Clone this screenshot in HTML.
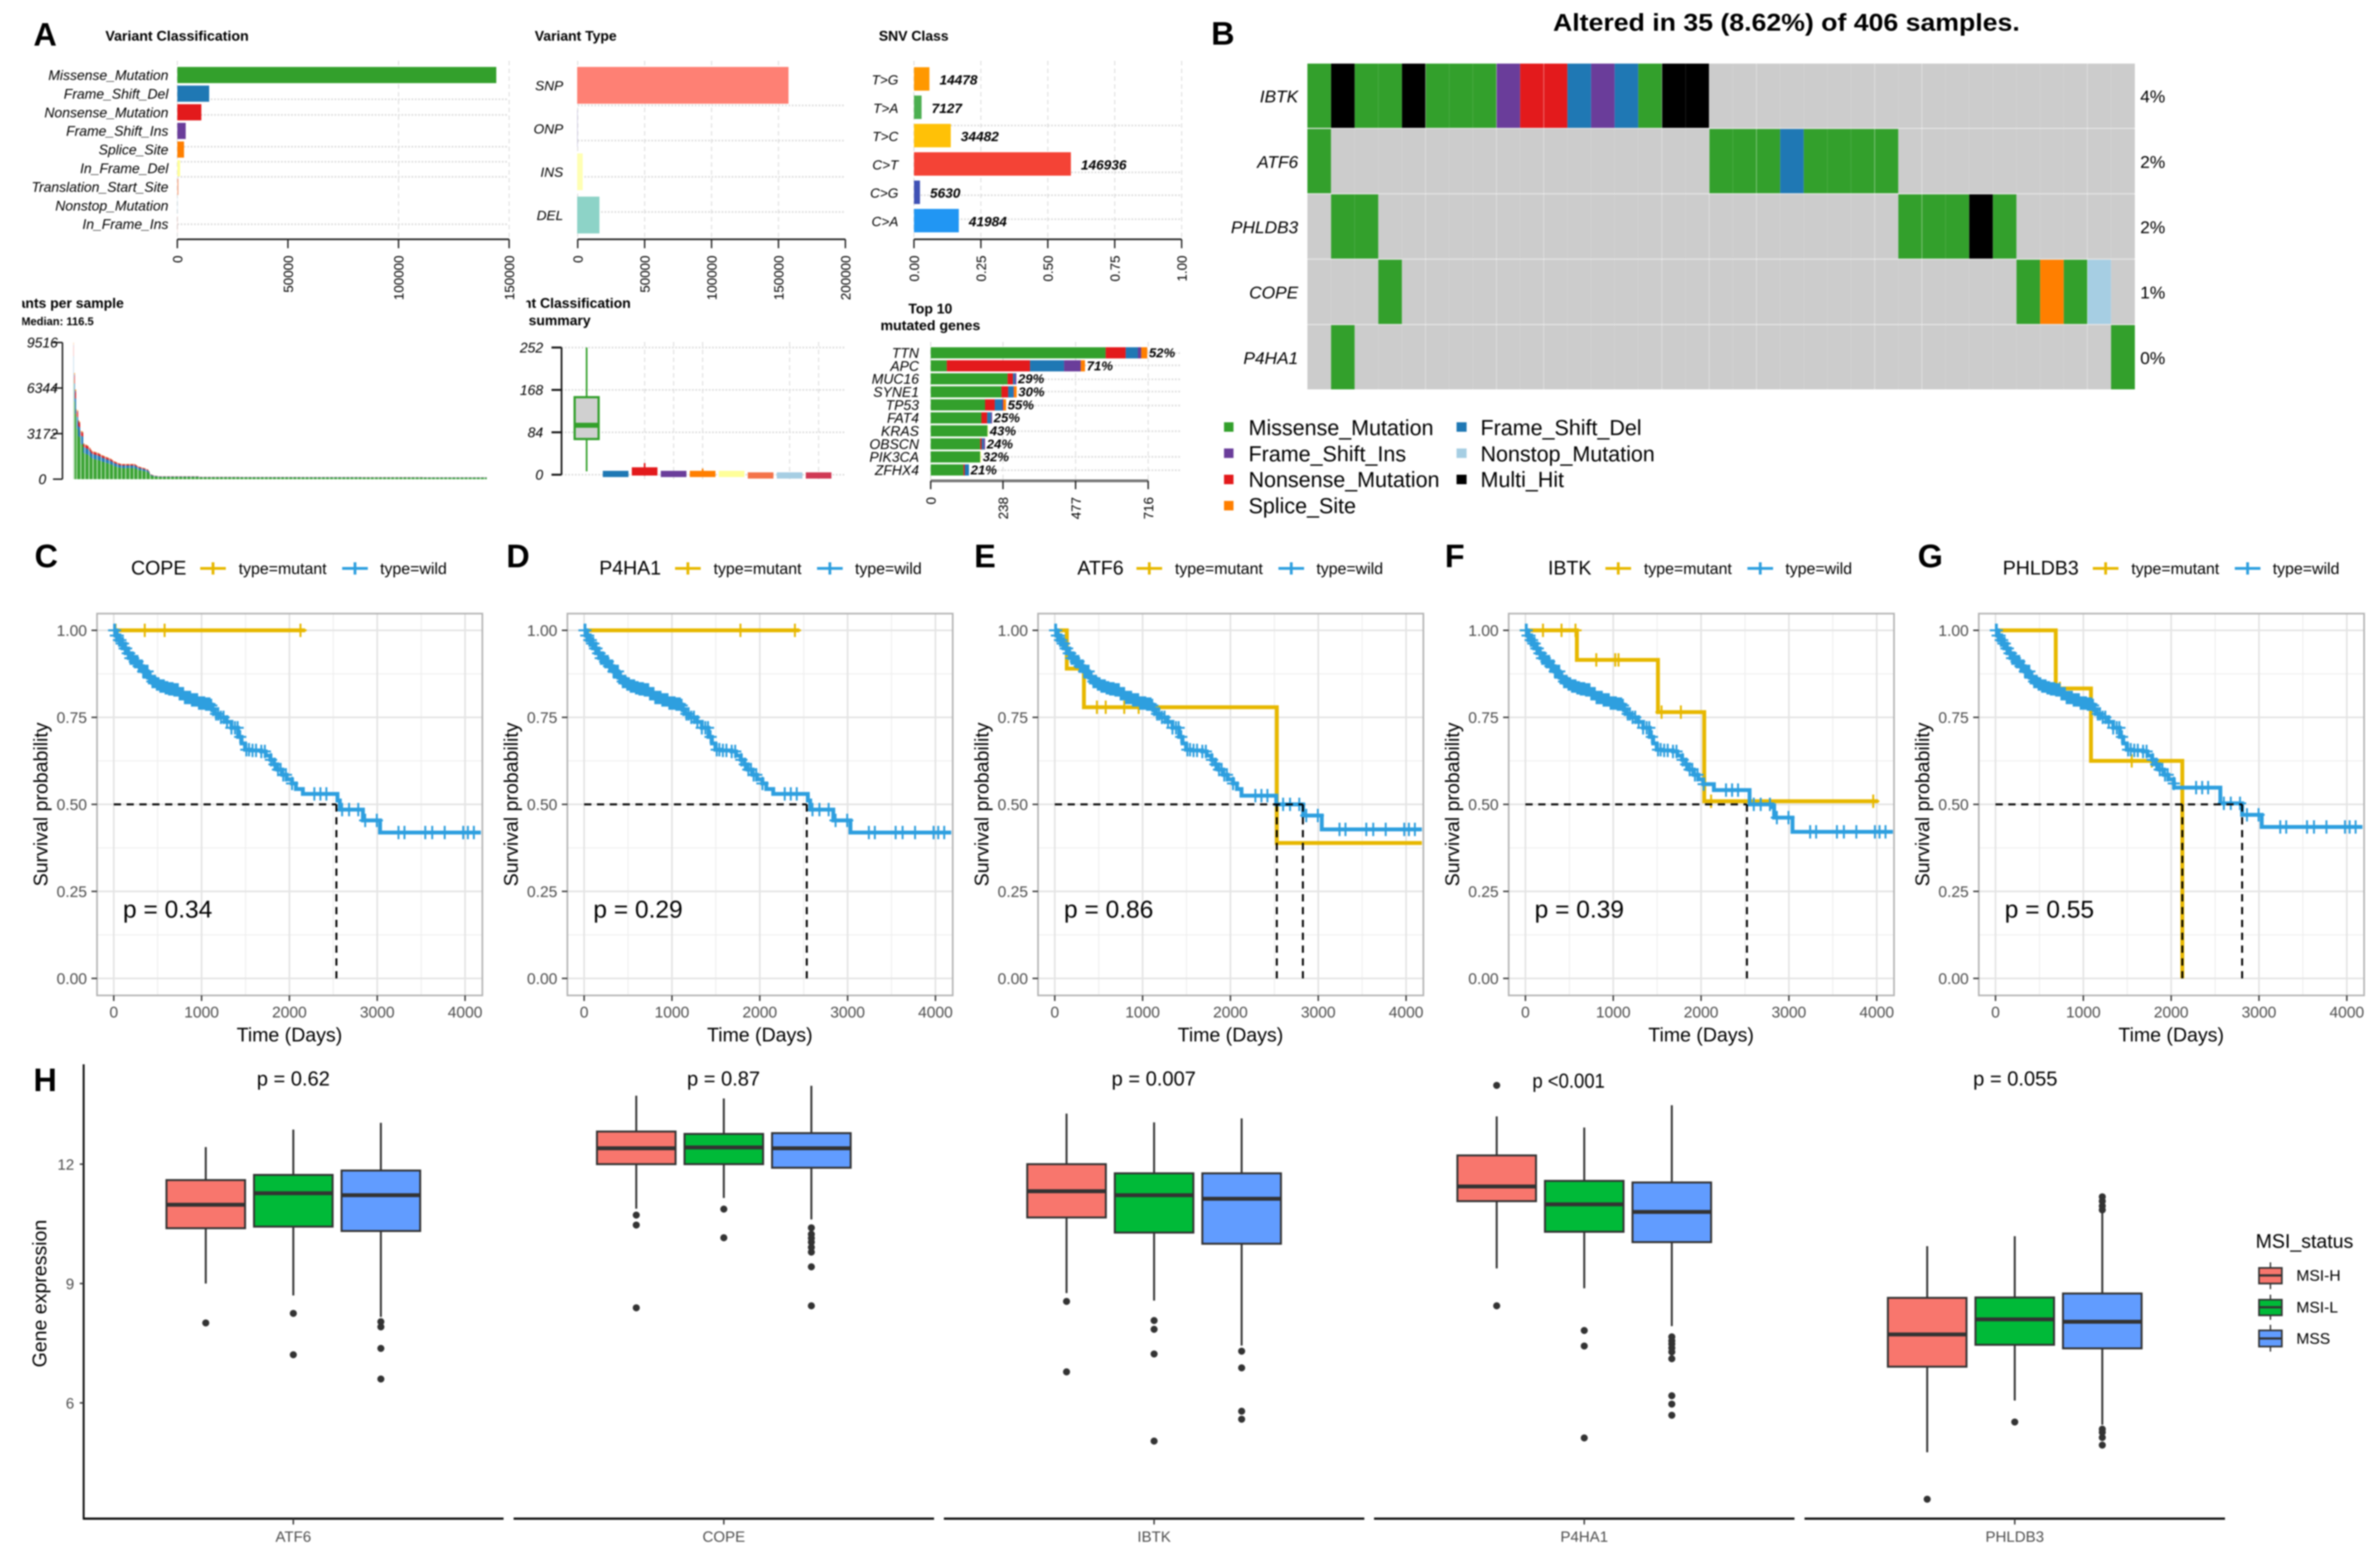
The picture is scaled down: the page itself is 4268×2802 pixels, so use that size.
<!DOCTYPE html>
<html lang="en">
<head>
<meta charset="utf-8">
<title>Mutation, survival and expression overview</title>
<style>
html,body{margin:0;padding:0;background:#fff;}
svg{display:block;filter:blur(1.4px);}
text{font-family:"Liberation Sans",Arial,sans-serif;}
.t{font-weight:700;font-size:25px;fill:#000;}
.l{font-weight:700;font-size:58px;fill:#000;}
.kg{font-size:35px;fill:#000;}
.kt{font-size:28.5px;fill:#000;}
.ax{font-size:35px;fill:#000;}
.p{font-size:44px;fill:#000;}
.hp{font-size:36px;fill:#000;}
.lg{font-size:38.5px;fill:#000;}
</style>
</head>
<body>
<svg id="fig" xmlns="http://www.w3.org/2000/svg" width="4268" height="2802" viewBox="0 0 4268 2802">
<defs>
<clipPath id="clipVm"><rect x="40" y="520" width="300" height="80"/></clipPath>
<clipPath id="clipVcs"><rect x="943.5" y="520" width="300" height="40"/></clipPath>
</defs>
<rect width="4268" height="2802" fill="#fff"/>

<!-- Panel A -->
<text class="l" x="60" y="82">A</text>
<text class="t" x="189" y="73" textLength="257" lengthAdjust="spacingAndGlyphs">Variant Classification</text>
<text class="t" x="959" y="73">Variant Type</text>
<text class="t" x="1576" y="73">SNV Class</text>
<g clip-path="url(#clipVm)">
<text class="t" x="222" y="552" text-anchor="end">Variants per sample</text>
<text x="168" y="583" text-anchor="end" font-size="20" font-weight="700">Median: 116.5</text>
</g>
<g clip-path="url(#clipVcs)">
<text class="t" x="1131" y="552" text-anchor="end">Variant Classification</text>
</g>
<text class="t" x="948" y="583">summary</text>
<text class="t" x="1629" y="562">Top 10</text>
<text class="t" x="1579" y="592" textLength="179" lengthAdjust="spacingAndGlyphs">mutated genes</text>
<g id="a1"></g>
<g id="a2"></g>
<g id="a3"></g>
<g id="a4"></g>
<g id="a5"></g>
<g id="a6"></g>

<!-- Panel B -->
<text class="l" x="2172" y="80">B</text>
<text x="2785" y="55" font-size="44" font-weight="700" textLength="837" lengthAdjust="spacingAndGlyphs">Altered in 35 (8.62%) of 406 samples.</text>
<g id="onco"></g>
<g>
<rect x="2195" y="757" width="17" height="17" fill="#33A02C"/>
<text class="lg" x="2239" y="780">Missense_Mutation</text>
<rect x="2195" y="804" width="17" height="17" fill="#6A3D9A"/>
<text class="lg" x="2239" y="827">Frame_Shift_Ins</text>
<rect x="2195" y="851" width="17" height="17" fill="#E31A1C"/>
<text class="lg" x="2239" y="873">Nonsense_Mutation</text>
<rect x="2195" y="898" width="17" height="17" fill="#FF7F00"/>
<text class="lg" x="2239" y="920">Splice_Site</text>
<rect x="2612" y="757" width="18" height="17" fill="#1F78B4"/>
<text class="lg" x="2655" y="780">Frame_Shift_Del</text>
<rect x="2612" y="804" width="18" height="17" fill="#A6CEE3"/>
<text class="lg" x="2655" y="827">Nonstop_Mutation</text>
<rect x="2612" y="851" width="18" height="17" fill="#000"/>
<text class="lg" x="2655" y="873">Multi_Hit</text>
</g>

<!-- Panels C-G -->
<text class="l" x="62" y="1017">C</text>
<text class="l" x="908" y="1017">D</text>
<text class="l" x="1747" y="1017">E</text>
<text class="l" x="2591" y="1017">F</text>
<text class="l" x="3439" y="1017">G</text>

<text class="kg" x="235" y="1030">COPE</text>
<text class="kt" x="428" y="1029">type=mutant</text>
<text class="kt" x="681.6" y="1029">type=wild</text>
<text class="kg" x="1074.6" y="1030">P4HA1</text>
<text class="kt" x="1279.6" y="1029">type=mutant</text>
<text class="kt" x="1533.2" y="1029">type=wild</text>
<text class="kg" x="1932" y="1030">ATF6</text>
<text class="kt" x="2107" y="1029">type=mutant</text>
<text class="kt" x="2360.6" y="1029">type=wild</text>
<text class="kg" x="2776" y="1030">IBTK</text>
<text class="kt" x="2948" y="1029">type=mutant</text>
<text class="kt" x="3201.6" y="1029">type=wild</text>
<text class="kg" x="3591.5" y="1030">PHLDB3</text>
<text class="kt" x="3822" y="1029">type=mutant</text>
<text class="kt" x="4075.6" y="1029">type=wild</text>

<g id="km"></g>

<text class="ax" transform="translate(85 1442) rotate(-90)" text-anchor="middle">Survival probability</text>
<text class="ax" transform="translate(928.5 1442) rotate(-90)" text-anchor="middle">Survival probability</text>
<text class="ax" transform="translate(1772.5 1442) rotate(-90)" text-anchor="middle">Survival probability</text>
<text class="ax" transform="translate(2616.5 1442) rotate(-90)" text-anchor="middle">Survival probability</text>
<text class="ax" transform="translate(3459.5 1442) rotate(-90)" text-anchor="middle">Survival probability</text>

<text class="ax" x="519" y="1867" text-anchor="middle">Time (Days)</text>
<text class="ax" x="1362.5" y="1867" text-anchor="middle">Time (Days)</text>
<text class="ax" x="2206.5" y="1867" text-anchor="middle">Time (Days)</text>
<text class="ax" x="3050.5" y="1867" text-anchor="middle">Time (Days)</text>
<text class="ax" x="3893.5" y="1867" text-anchor="middle">Time (Days)</text>

<text class="p" x="220.5" y="1645">p = 0.34</text>
<text class="p" x="1064" y="1645">p = 0.29</text>
<text class="p" x="1908" y="1645">p = 0.86</text>
<text class="p" x="2752" y="1645">p = 0.39</text>
<text class="p" x="3595" y="1645">p = 0.55</text>

<!-- Panel H -->
<text class="l" x="60" y="1956">H</text>
<text class="ax" transform="translate(83 2319) rotate(-90)" text-anchor="middle">Gene expression</text>
<text class="hp" x="526" y="1946" text-anchor="middle">p = 0.62</text>
<text class="hp" x="1297.5" y="1946" text-anchor="middle">p = 0.87</text>
<text class="hp" x="2069" y="1946" text-anchor="middle">p = 0.007</text>
<text class="hp" x="2813" y="1950" text-anchor="middle" textLength="130" lengthAdjust="spacingAndGlyphs">p &lt;0.001</text>
<text class="hp" x="3614" y="1946" text-anchor="middle">p = 0.055</text>
<g id="expr"></g>
<g>
<text x="4045" y="2237" font-size="35">MSI_status</text>
<line x1="4071.5" x2="4071.5" y1="2263" y2="2311" stroke="#333" stroke-width="2.5"/>
<rect x="4051" y="2273" width="41" height="28" fill="#F8766D" stroke="#333" stroke-width="3"/>
<line x1="4051" x2="4092" y1="2286.5" y2="2286.5" stroke="#333" stroke-width="4"/>
<text x="4118" y="2296" font-size="28">MSI-H</text>
<line x1="4071.5" x2="4071.5" y1="2321" y2="2366" stroke="#333" stroke-width="2.5"/>
<rect x="4051" y="2330" width="41" height="28" fill="#00BA38" stroke="#333" stroke-width="3"/>
<line x1="4051" x2="4092" y1="2343.5" y2="2343.5" stroke="#333" stroke-width="4"/>
<text x="4118" y="2353" font-size="28">MSI-L</text>
<line x1="4071.5" x2="4071.5" y1="2375" y2="2423" stroke="#333" stroke-width="2.5"/>
<rect x="4051" y="2385" width="41" height="29" fill="#619CFF" stroke="#333" stroke-width="3"/>
<line x1="4051" x2="4092" y1="2399.5" y2="2399.5" stroke="#333" stroke-width="4"/>
<text x="4118" y="2409" font-size="28">MSS</text>
</g>
</svg>

<script>
/* ---------- data: panel A ---------- */
const vcCategories = ['Missense_Mutation','Frame_Shift_Del','Nonsense_Mutation','Frame_Shift_Ins','Splice_Site','In_Frame_Del','Translation_Start_Site','Nonstop_Mutation','In_Frame_Ins'];
const vcValues = [144200,14400,10860,3790,3030,1260,500,100,60];
const vcColors = ['#33A02C','#1F78B4','#E31A1C','#6A3D9A','#FF7F00','#FFFF99','#F4A582','#A6CEE3','#D6604D'];
const vcTicks = ['0','50000','100000','150000'];

const vtCategories = ['SNP','ONP','INS','DEL'];
const vtValues = [157500,0,3750,16250];
const vtColors = ['#FE8074','#BEBADA','#FFFFB3','#8DD3C7'];
const vtTicks = ['0','50000','100000','150000','200000'];

const snvCategories = ['T>G','T>A','T>C','C>T','C>G','C>A'];
const snvValues = [14478,7127,34482,146936,5630,41984];
const snvColors = ['#FF9800','#4CAF50','#FFC107','#F44336','#3F51B5','#2196F3'];
const snvTicks = ['0.00','0.25','0.50','0.75','1.00'];

const vmTopSamples = [9516,7400,6240,4880,4800,4100,4000,3390,3350,3300,2490,2460,2420,2380,2340,2290,2200,2080,1970,1950,1930,1900,1880,1860,1840,1800,1760,1720,1680,1650,1620,1590,1560,1530,1500,1470,1450,1400,1350,1300,1260,1220,1190,1160,1130,1100,1080,1070,1060,1060,1060,1060,1060,1060,1060,1060,1060,1060,1060,1060,1060,1010,960,920,890,860,840,820,800,780,760,730,700,670,560,450,350,310,280,260,245,235,228,224];
const vmTailRuns = [[40,205],[40,165],[60,155],[60,150],[60,145],[62,130]];
const vmShares = [0.73,0.17,0.07,0.01,0.02];
const vmColors = ['#33A02C','#1F78B4','#E31A1C','#6A3D9A','#FF7F00'];
const vmTicks = ['0','3172','6344','9516'];

const vcsLow = [6.6,-3,-2,-3,-3,-3,-3,-3,-3];
const vcsQ1 = [70.7,-3,0,-3,-3,-3,-6,-6,-6];
const vcsMedian = [98,1,6,1,1,1,-1,-1,-1];
const vcsQ3 = [153.6,6,13,6,6,6,3,3,3];
const vcsHigh = [252,6,23,6,12,6,3,3,3];
const vcsColors = ['#33A02C','#1F78B4','#E31A1C','#6A3D9A','#FF7F00','#FFFF99','#F4744A','#A6CEE3','#D03A55'];
const vcsTicks = ['0','84','168','252'];

const topGenes = ['TTN','APC','MUC16','SYNE1','TP53','FAT4','KRAS','OBSCN','PIK3CA','ZFHX4'];
const topPercent = ['52%','71%','29%','30%','55%','25%','43%','24%','32%','21%'];
const topMissense = [576,53,253,233,179,167,187,163,163,108];
const topNonsense = [66,274,18,22,32,19,0,5,0,4];
const topFsDel = [40,112,6,17,24,12,0,6,0,14];
const topFsIns = [11,55,5,2,4,4,0,5,0,0];
const topSplice = [20,14,0,9,9,0,0,0,0,0];
const topInFrame = [0,0,0,0,0,0,2,0,3,0];
const topTicks = ['0','238','477','716'];

/* ---------- data: panel B ---------- */
const oncoGenes = ['IBTK','ATF6','PHLDB3','COPE','P4HA1'];
const oncoPercent = ['4%','2%','2%','1%','0%'];
const oncoMatrix = [
  'MKMMKMMMFNNDFDMKK..................',
  'M................MMMDMMMM..........',
  '.MM......................MMMKM.....',
  '...M..........................MSMO.',
  '.M................................M'
];

/* ---------- data: panels C-G ---------- */
const kmTimeTicks = ['0','1000','2000','3000','4000'];
const kmSurvTicks = ['0.00','0.25','0.50','0.75','1.00'];
const wildBaseTimes = [0,25,55,84,120,153,190,230,284,330,390,440,480,521,580,630,679,740,810,880,968,1040,1100,1125,1153,1200,1284,1340,1416,1455,1495,1560,1679,1730,1784,1825,1863,1920,1968,2030,2074,2153];
const wildBaseSurv = [1,.985,.972,.962,.948,.934,.92,.91,.897,.882,.864,.853,.846,.84,.835,.832,.829,.818,.807,.8,.791,.788,.784,.773,.76,.75,.737,.72,.694,.675,.657,.655,.652,.64,.628,.615,.6,.585,.572,.56,.544,.53];
const wildTailTimes = [
  [2468,2547,2574,2837,3032,4180],
  [2468,2547,2574,2837,3032,4180],
  [2126,2522,2828,3040,4180],
  [2025,2146,2552,2813,2832,3041,4184],
  [2033,2560,2808,3031,4178]
];
const wildTailSurv = [
  [.53,.511,.485,.454,.419,.419],
  [.53,.511,.485,.454,.419,.419],
  [.525,.5,.468,.428,.428],
  [.558,.541,.5,.492,.462,.421,.421],
  [.548,.503,.47,.435,.435]
];
const wildCensor = [5,15,25,35,45,60,75,90,105,125,140,160,175,190,205,220,240,255,270,285,300,320,335,350,370,385,400,420,440,455,470,490,510,530,550,570,590,610,630,650,670,690,710,730,750,770,790,810,830,850,870,890,910,930,950,970,990,1010,1030,1050,1070,1090,1110,1130,1165,1190,1220,1250,1290,1340,1380,1410,1440,1510,1540,1580,1620,1680,1720,1790,1830,1870,1900,1930,1960,2030,2284,2353,2421,2600,2679,2784,2863,2995,3242,3310,3547,3626,3768,3979,4032,4100];
const mutantTimes = [
  [0,2179],
  [0,2450],
  [0,137,332,2528,4180],
  [0,586,1509,2036,4016],
  [0,686,1087,2127,2127]
];
const mutantSurv = [
  [1,1],
  [1,1],
  [1,.89,.779,.389,.389],
  [1,.915,.765,.509,.509],
  [1,.833,.625,0,0]
];
const mutantCensor = [
  [21,353,579,2126],
  [1780,2400],
  [480,580,791,955],
  [5,200,411,570,807,1023,1060,1550,1770,2114,3960],
  [733,1551,1778]
];
const medianTimes = [
  [2535],
  [2535],
  [2528,2825],
  [2522],
  [2127,2808]
];

/* ---------- data: panel H ---------- */
const exprGenes = ['ATF6','COPE','IBTK','P4HA1','PHLDB3'];
const exprTicks = ['6','9','12'];
const exprHigh = [[12.43,12.87,13.04],[13.72,13.65,13.97],[13.27,13.05,13.15],[13.2,12.92,13.48],[9.94,10.19,10.78]];
const exprQ3 = [[11.6,11.73,11.84],[12.82,12.76,12.78],[12.0,11.77,11.77],[12.22,11.58,11.54],[8.64,8.65,8.75]];
const exprMedian = [[10.98,11.27,11.22],[12.4,12.42,12.4],[11.32,11.22,11.13],[11.44,10.99,10.8],[7.72,8.1,8.04]];
const exprQ1 = [[10.39,10.43,10.32],[12.0,12.0,11.91],[10.66,10.28,10.0],[11.07,10.3,10.04],[6.91,7.46,7.37]];
const exprLow = [[9.0,8.7,8.16],[10.88,11.15,10.61],[8.76,8.57,7.44],[9.38,8.88,7.93],[4.76,6.06,5.45]];
const exprOutliers = [
  [[8.01],[8.25,7.21],[8.04,7.91,7.37,6.6]],
  [[10.72,10.47,8.39],[10.87,10.15],[10.4,10.24,10.14,10.04,9.91,9.79,9.42,8.44]],
  [[8.55,6.78],[8.07,7.85,7.23,5.04],[7.3,6.88,5.79,5.59]],
  [[13.98,8.44],[7.82,7.43,5.12],[7.66,7.56,7.48,7.38,7.28,7.11,6.18,5.97,5.69]],
  [[3.58],[5.52],[11.18,11.07,10.95,10.85,5.34,5.26,5.13,4.94]]
];
const msiColors = ['#F8766D','#00BA38','#619CFF'];

/* ---------- helpers ---------- */
const NS = 'http://www.w3.org/2000/svg';
const $ = id => document.getElementById(id);
function node(tag, parent, attrs) {
  const el = document.createElementNS(NS, tag);
  for (const k in attrs) el.setAttribute(k, attrs[k]);
  parent.appendChild(el);
  return el;
}
function linear(d0, d1, r0, r1) {
  return v => r0 + (v - d0) * (r1 - r0) / (d1 - d0);
}
function gridV(g, x, y1, y2) {
  const el = node('line', g, {x1:x, x2:x, y1:y1, y2:y2, stroke:'#e0e0e0', 'stroke-width':2, 'stroke-dasharray':'8 6'});
  
  
}
function gridH(g, x1, x2, y) {
  const el = node('line', g, {x1:x1, x2:x2, y1:y, y2:y, stroke:'#dcdcdc', 'stroke-width':3, 'stroke-dasharray':'3 3'});
  
  
}
function axisLine(g, x1, y1, x2, y2, color, w) {
  const el = node('line', g, {x1:x1, y1:y1, x2:x2, y2:y2, stroke:color, 'stroke-width':w});
  
  
}
function tick(g, x1, y1, x2, y2, color, w) {
  const el = node('line', g, {x1:x1, y1:y1, x2:x2, y2:y2, stroke:color, 'stroke-width':w});
  
  
}
function tickLabel(g, x, y, str, anchor, size, italic, color) {
  const el = node('text', g, {x:x, y:y, 'text-anchor':anchor, 'font-size':size, fill:color || '#000', 'font-style':italic ? 'italic' : 'normal'});
  el.textContent = str;
  
  
}
function rotatedTickLabel(g, x, y, str) {
  const el = node('text', g, {transform:'translate(' + x + ' ' + y + ') rotate(-90)', 'text-anchor':'end', 'font-size':24, fill:'#000'});
  el.textContent = str;
  
  
}
function categoryLabel(g, x, y, str, size) {
  const el = node('text', g, {x:x, y:y, 'text-anchor':'end', 'font-size':size, 'font-style':'italic', fill:'#000'});
  el.textContent = str;
  
  
}
function valueLabel(g, x, y, str, size) {
  const el = node('text', g, {x:x, y:y, 'font-size':size, 'font-style':'italic', 'font-weight':700, fill:'#000'});
  el.textContent = str;
  
  
}
function bar(g, x, y, w, h, fill, opacity) {
  const el = node('rect', g, {x:x, y:y, width:Math.max(w, 0), height:h, fill:fill, opacity:opacity === undefined ? 1 : opacity});
  
  
}

/* ---------- panel A : horizontal bars ---------- */
(function () {
  const g = $('a1');
  const x = linear(0, 150000, 318, 913);
  [0, 100000, 150000].forEach(v => gridV(g, x(v), 109, 429));
  [178, 206, 263, 290, 317, 402].forEach(y => gridH(g, 318, 911, y));
  const y = i => 134.5 + i * 33.4;
  vcCategories.forEach((c, i) => {
    bar(g, 318, y(i) - 14.5, x(vcValues[i]) - 318, 29, vcColors[i]);
    categoryLabel(g, 302, y(i) + 9, c, 25);
  });
  axisLine(g, 318, 429, 913, 429, '#222', 3);
  vcTicks.forEach(t => {
    tick(g, x(+t), 429, x(+t), 445, '#222', 2.5);
    rotatedTickLabel(g, x(+t) + 9, 458, t);
  });
})();

(function () {
  const g = $('a2');
  const x = linear(0, 200000, 1036, 1516);
  vtTicks.slice(0, 4).forEach(t => gridV(g, x(+t), 109, 429));
  [189, 252, 317, 380].forEach(y => gridH(g, 1036, 1515, y));
  const y = i => 153 + i * 77.5;
  vtCategories.forEach((c, i) => {
    bar(g, 1035, y(i) - 33, x(vtValues[i]) - 1035, 66, vtColors[i]);
    categoryLabel(g, 1010, y(i) + 9, c, 24.5);
  });
  axisLine(g, 1036, 429, 1516, 429, '#222', 3);
  vtTicks.forEach(t => {
    tick(g, x(+t), 429, x(+t), 445, '#222', 2.5);
    rotatedTickLabel(g, x(+t) + 9, 458, t);
  });
})();

(function () {
  const g = $('a3');
  const x = linear(0, 1, 1639, 2119);
  snvTicks.forEach(t => gridV(g, x(+t), 109, 429));
  [225, 309, 350, 393].forEach(y => gridH(g, 1639, 2118, y));
  const total = snvValues.reduce((a, b) => a + b, 0);
  const y = i => 141.5 + i * 50.8;
  snvCategories.forEach((c, i) => {
    const end = x(snvValues[i] / total);
    bar(g, 1639, y(i) - 21, end - 1639, 42, snvColors[i]);
    categoryLabel(g, 1611, y(i) + 10, c, 24.3);
    valueLabel(g, end + 18, y(i) + 10, String(snvValues[i]), 24.5);
  });
  axisLine(g, 1639, 429, 2119, 429, '#222', 3);
  snvTicks.forEach(t => {
    tick(g, x(+t), 429, x(+t), 445, '#222', 2.5);
    rotatedTickLabel(g, x(+t) + 9, 458, t);
  });
})();

/* ---------- panel A : variants per sample ---------- */
(function () {
  const g = $('a4');
  const samples = vmTopSamples.slice();
  vmTailRuns.forEach(run => { for (let k = 0; k < run[0]; k++) samples.push(run[1]); });
  const y = linear(0, 9516, 859, 614);
  const step = 742 / samples.length;
  samples.forEach((total, i) => {
    let base = 0;
    const o = i === 0 ? 0.2 : (i === 1 ? 0.6 : 1);
    const w = step * (i % 4 === 3 ? 0.35 : 1);
    vmShares.forEach((share, s) => {
      const top = base + total * share;
      bar(g, 131 + i * step, y(top), w, y(base) - y(top), vmColors[s], o);
      base = top;
    });
  });
  axisLine(g, 112, 614, 112, 859, '#111', 2.5);
  vmTicks.forEach(t => {
    tick(g, 95, y(+t), 112, y(+t), '#111', 2.5);
    tickLabel(g, 76, y(+t) + 9, t, 'middle', 25, true);
  });
})();

/* ---------- panel A : classification summary ---------- */
(function () {
  const g = $('a5');
  const y = linear(0, 252, 851, 623);
  const x = i => 1052 + i * 52;
  [2, 3, 4, 7, 8].forEach(i => gridV(g, x(i), 613, 862));
  vcsTicks.forEach(t => gridH(g, 1007, 1516, y(+t)));
  vcsQ3.forEach((q3, i) => {
    const wsk = node('line', g, {x1:x(i), x2:x(i), y1:y(vcsHigh[i]), y2:y(vcsLow[i]), stroke:vcsColors[i], 'stroke-width':3});
    
    
    const box = node('rect', g, {x:x(i) - 21.5, y:y(q3), width:43, height:y(vcsQ1[i]) - y(q3), fill:i === 0 ? '#d0d0d0' : vcsColors[i], stroke:vcsColors[i], 'stroke-width':i === 0 ? 4 : 3});
    
    
    const med = node('line', g, {x1:x(i) - 21.5, x2:x(i) + 21.5, y1:y(vcsMedian[i]), y2:y(vcsMedian[i]), stroke:vcsColors[i], 'stroke-width':i === 0 ? 9 : 3});
    
    
  });
  axisLine(g, 1007, 623, 1007, 851, '#111', 3);
  vcsTicks.forEach(t => {
    tick(g, 989, y(+t), 1007, y(+t), '#111', 3.5);
    tickLabel(g, 974, y(+t) + 9, t, 'end', 25, true);
  });
})();

/* ---------- panel A : top mutated genes ---------- */
(function () {
  const g = $('a6');
  const x = linear(0, 716, 1669, 2059);
  topTicks.forEach(t => gridV(g, x(+t), 613, 862));
  [633, 655, 680, 702, 727, 773, 819, 843].forEach(yy => gridH(g, 1669, 2118, yy));
  const y = i => 632.5 + i * 23.33;
  const series = [topMissense, topNonsense, topFsDel, topFsIns, topSplice, topInFrame];
  const colors = ['#33A02C', '#E31A1C', '#1F78B4', '#6A3D9A', '#FF7F00', '#FFFF99'];
  topGenes.forEach((gene, i) => {
    let base = 0;
    series.forEach((s, k) => {
      if (s[i] > 0) bar(g, x(base), y(i) - 10, x(base + s[i]) - x(base), 20, colors[k]);
      base += s[i];
    });
    categoryLabel(g, 1648, y(i) + 9, gene, 25);
    valueLabel(g, x(base) + 3, y(i) + 8, topPercent[i], 23.5);
  });
  axisLine(g, 1669, 862, 2059, 862, '#777', 5);
  topTicks.forEach(t => {
    tick(g, x(+t), 862, x(+t), 877, '#222', 2.5);
    rotatedTickLabel(g, x(+t) + 9, 891, t);
  });
})();

/* ---------- panel B : oncoplot ---------- */
(function () {
  const g = $('onco');
  const palette = {'.':'#CCCCCC', M:'#33A02C', K:'#000000', F:'#6A3D9A', N:'#E31A1C', D:'#1F78B4', S:'#FF7F00', O:'#A6CEE3'};
  const left = 2344.5, top = 114, cw = (3828 - 2344.5) / 35, rh = 117.2;
  const backdrop = node('rect', g, {x:left, y:top, width:cw * 35, height:rh * 5 - 2, fill:'#e6e6e6'});
  
  
  oncoMatrix.forEach((row, r) => {
    row.split('').forEach((code, c) => {
      const cell = node('rect', g, {x:left + c * cw, y:top + r * rh, width:cw + 0.4, height:rh - 2, fill:palette[code]});
      
      
    });
    const gy = top + r * rh + rh / 2 + 11;
    categoryLabel(g, 2328, gy, oncoGenes[r], 31);
    const pct = node('text', g, {x:3838, y:gy, 'font-size':31, fill:'#000'});
    pct.textContent = oncoPercent[r];
    
    
  });
  const strong = [5, 8, 10, 15, 17, 19, 24, 26, 33];
  for (let c = 1; c < 35; c++) {
    const sep = node('line', g, {x1:left + c * cw, x2:left + c * cw, y1:top, y2:top + 5 * rh - 2, stroke:'#fff', 'stroke-width':1.5, opacity:strong.indexOf(c) >= 0 ? 0.4 : 0.1});
    
    
  }
})();

/* ---------- panels C-G : survival ---------- */
const kmPanelLeft = [174, 1017.5, 1861.5, 2705.5, 3548.5];
const kmKeyLeft = [359, 1210.6, 2038, 2879, 3753];

function survAt(times, surv, t) {
  let s = surv[0];
  for (let i = 0; i < times.length; i++) { if (times[i] <= t) s = surv[i]; }
  return s;
}
function stepPath(times, surv, x, y) {
  let d = 'M' + x(times[0]) + ' ' + y(surv[0]);
  for (let i = 1; i < times.length; i++) d += 'H' + x(times[i]) + 'V' + y(surv[i]);
  return d;
}
function crossPath(ts, times, surv, x, y) {
  let d = '';
  ts.forEach(t => {
    const px = x(t), py = y(survAt(times, surv, t));
    d += 'M' + (px - 11) + ' ' + py + 'H' + (px + 11) + 'M' + px + ' ' + (py - 12) + 'V' + (py + 12);
  });
  return d;
}
function kmGridLine(g, x1, y1, x2, y2, major) {
  const el = node('line', g, {x1:x1, y1:y1, x2:x2, y2:y2, stroke:major ? '#e4e4e4' : '#f0f0f0', 'stroke-width':major ? 3 : 2});
  
  
}
function kmCurve(g, d, color) {
  const el = node('path', g, {d:d, fill:'none', stroke:color, 'stroke-width':7});
  
  
}
function kmCensor(g, d, color) {
  const el = node('path', g, {d:d, fill:'none', stroke:color, 'stroke-width':3.5});
  
  
}
function kmMedianLine(g, x1, y1, x2, y2) {
  const el = node('line', g, {x1:x1, y1:y1, x2:x2, y2:y2, stroke:'#000', 'stroke-width':3.5, 'stroke-dasharray':'13 10'});
  
  
}
function kmKey(g, x0, color) {
  const el = node('path', g, {d:'M' + x0 + ' 1019H' + (x0 + 46) + 'M' + (x0 + 23) + ' 1008V1030', fill:'none', stroke:color, 'stroke-width':5});
  
  
}

kmPanelLeft.forEach((left, p) => {
  const g = node('g', $('km'), {});
  
  
  const right = left + 691, top = 1100, bottom = 1784.5;
  const x = linear(0, 4000, left + 30, left + 660);
  const y = linear(0, 1, 1754, 1130);
  [500, 1500, 2500, 3500].forEach(v => kmGridLine(g, x(v), top, x(v), bottom, false));
  [.125, .375, .625, .875].forEach(v => kmGridLine(g, left, y(v), right, y(v), false));
  kmTimeTicks.forEach(t => kmGridLine(g, x(+t), top, x(+t), bottom, true));
  kmSurvTicks.forEach(t => kmGridLine(g, left, y(+t), right, y(+t), true));

  const border = node('rect', g, {x:left, y:top, width:691, height:bottom - top, fill:'none', stroke:'#b5b5b5', 'stroke-width':3});
  
  

  kmTimeTicks.forEach(t => {
    tick(g, x(+t), bottom, x(+t), bottom + 10, '#333', 2.5);
    tickLabel(g, x(+t), 1824, t, 'middle', 28, false, '#4d4d4d');
  });
  kmSurvTicks.forEach(t => {
    tick(g, left - 10, y(+t), left, y(+t), '#333', 2.5);
    tickLabel(g, left - 18, y(+t) + 10, t, 'end', 28, false, '#4d4d4d');
  });

  kmCurve(g, stepPath(mutantTimes[p], mutantSurv[p], x, y), '#E7B800');
  kmCensor(g, crossPath(mutantCensor[p], mutantTimes[p], mutantSurv[p], x, y), '#E7B800');

  const firstTail = wildTailTimes[p][0];
  const times = [], surv = [];
  wildBaseTimes.forEach((t, i) => { if (t < firstTail) { times.push(t); surv.push(wildBaseSurv[i]); } });
  wildTailTimes[p].forEach((t, i) => { times.push(t); surv.push(wildTailSurv[p][i]); });
  kmCurve(g, stepPath(times, surv, x, y), '#2E9FDF');
  kmCensor(g, crossPath(wildCensor, times, surv, x, y), '#2E9FDF');

  const meds = medianTimes[p];
  kmMedianLine(g, x(0), y(.5), x(Math.max.apply(null, meds)), y(.5));
  meds.forEach(m => kmMedianLine(g, x(m), y(.5), x(m), y(0)));

  kmKey(g, kmKeyLeft[p], '#E7B800');
  kmKey(g, kmKeyLeft[p] + 254.6, '#2E9FDF');
});

/* ---------- panel H : expression boxplots ---------- */
(function () {
  const g = $('expr');
  const y = linear(6, 12, 2515, 2087);
  const facetCenter = i => [526, 1298, 2069.6, 2841, 3613][i];
  const groupX = (f, m) => facetCenter(f) + (m - 1) * 157;
  exprGenes.forEach((gene, f) => {
    axisLine(g, facetCenter(f) - 377, 2722.5, facetCenter(f) + 377, 2722.5, '#111', 4);
    tick(g, facetCenter(f), 2722.5, facetCenter(f), 2733, '#333', 2.5);
    tickLabel(g, facetCenter(f), 2764, gene, 'middle', 27, false, '#4d4d4d');
    msiColors.forEach((color, m) => {
      const cx = groupX(f, m);
      const wsk = node('line', g, {x1:cx, x2:cx, y1:y(exprHigh[f][m]), y2:y(exprLow[f][m]), stroke:'#333', 'stroke-width':3.5});
      
      
      const box = node('rect', g, {x:cx - 70.5, y:y(exprQ3[f][m]), width:141, height:y(exprQ1[f][m]) - y(exprQ3[f][m]), fill:color, stroke:'#333', 'stroke-width':3.5});
      
      
      const med = node('line', g, {x1:cx - 70.5, x2:cx + 70.5, y1:y(exprMedian[f][m]), y2:y(exprMedian[f][m]), stroke:'#333', 'stroke-width':7});
      
      
      exprOutliers[f][m].forEach(v => {
        const pt = node('circle', g, {cx:cx, cy:y(v), r:6.3, fill:'#333'});
        
        
      });
    });
  });
  axisLine(g, 150, 1908, 150, 2724, '#111', 3.5);
  exprTicks.forEach(t => {
    tick(g, 143, y(+t), 150, y(+t), '#333', 2.5);
    tickLabel(g, 133, y(+t) + 10, t, 'end', 27, false, '#4d4d4d');
  });
})();
</script>
</body>
</html>
